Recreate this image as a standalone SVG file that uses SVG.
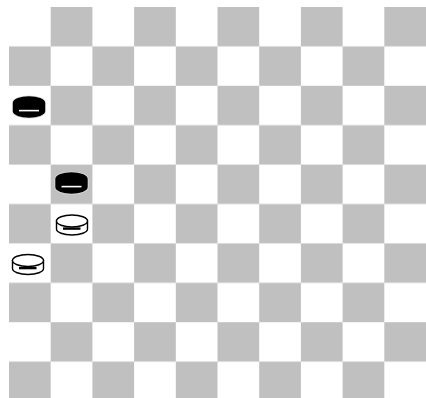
<svg xmlns="http://www.w3.org/2000/svg" width="426" height="398" viewBox="0 0 426 398">
<style>
.d{fill:#c0c0c0}
.pw{fill:#fff;stroke:#000;stroke-width:1.4}
.pb{fill:#000;stroke:#000;stroke-width:1.4}
</style>
<defs>
<pattern id="board" x="9" y="7" width="83.4" height="78.8" patternUnits="userSpaceOnUse">
<rect x="41.7" y="0" width="41.7" height="39.4" class="d"/>
<rect x="0" y="39.4" width="41.7" height="39.4" class="d"/>
</pattern>
<g id="white">
<path class="pw" d="M-15.5,-4 L-15.5,4 A15.5,6 0 0 0 15.5,4 L15.5,-4 Z"/>
<ellipse class="pw" cx="0" cy="-4" rx="15.5" ry="6"/>
<path d="M-9,3.6 L8.5,3.6" stroke="#000" stroke-width="2.4"/>
</g>
<g id="black">
<path d="M-15.5,-4 L-15.5,4 A15.5,6 0 0 0 15.5,4 L15.5,-4 A15.5,6 0 0 0 -15.5,-4 Z" fill="none" stroke="#ddd" stroke-width="3"/>
<path class="pb" d="M-15.5,-4 L-15.5,4 A15.5,6 0 0 0 15.5,4 L15.5,-4 A15.5,6 0 0 0 -15.5,-4 Z"/>
<path d="M-10,3.6 L10,3.6" stroke="#fff" stroke-width="1.6"/>
</g>
</defs>
<rect width="426" height="398" fill="#fff"/>
<rect id="board-squares" x="9" y="7" width="417" height="391" fill="url(#board)"/>
<g id="connectors"/>
<g id="piece-b1"><use href="#black" x="29" y="107"/></g>
<g id="piece-b2"><use href="#black" x="71.5" y="183"/></g>
<g id="piece-w1"><use href="#white" x="72" y="225"/></g>
<g id="piece-w2"><use href="#white" x="28" y="264.5"/></g>
</svg>
